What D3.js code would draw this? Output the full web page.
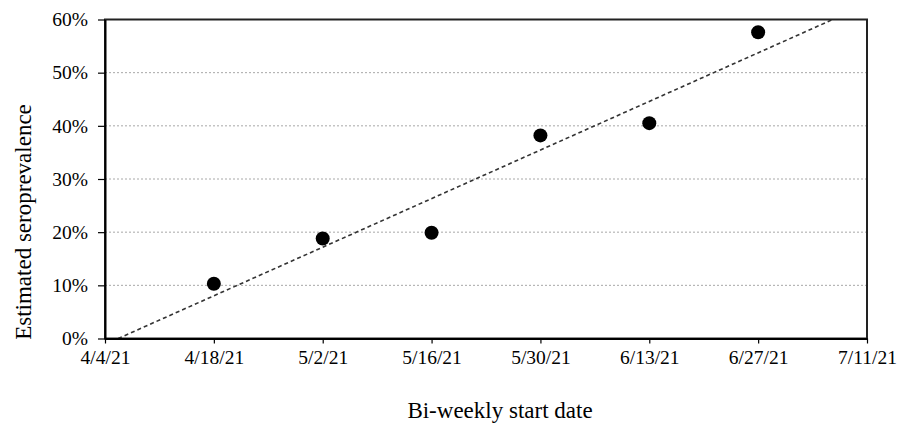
<!DOCTYPE html>
<html>
<head>
<meta charset="utf-8">
<script src="https://cdn.jsdelivr.net/npm/d3@7"></script>
<style>
  html, body { margin: 0; padding: 0; background: #fff; }
  svg { display: block; }
  text { font-family: "Liberation Serif", "Times New Roman", serif; fill: #000; }
</style>
</head>
<body>
<svg id="chart" width="905" height="423"></svg>
<script>
// ---- data ----
const dates = ["2021-04-18", "2021-05-02", "2021-05-16", "2021-05-30", "2021-06-13", "2021-06-27"];
const seroprevalence = [10.3, 18.8, 19.9, 38.2, 40.5, 57.6];
const xTickDatesStr = ["2021-04-04", "2021-04-18", "2021-05-02", "2021-05-16", "2021-05-30", "2021-06-13", "2021-06-27", "2021-07-11"];
const xTickLabels = ["4/4/21", "4/18/21", "5/2/21", "5/16/21", "5/30/21", "6/13/21", "6/27/21", "7/11/21"];
const yTicks = [0, 10, 20, 30, 40, 50, 60];
const xTitle = "Bi-weekly start date";
const yTitle = "Estimated seroprevalence";

const parse = d3.utcParse("%Y-%m-%d");
const points = dates.map((d, i) => ({ date: parse(d), value: seroprevalence[i] }));
const xTickDates = xTickDatesStr.map(parse);

const svg = d3.select("#chart");
const margin = { left: 105, right: 38, top: 19.5, bottom: 84.5 };
const W = 905, H = 423;
const iw = W - margin.left - margin.right;
const ih = H - margin.top - margin.bottom;

const x = d3.scaleUtc()
  .domain([xTickDates[0], xTickDates[xTickDates.length - 1]])
  .range([margin.left, margin.left + iw]);
const y = d3.scaleLinear().domain([0, 60]).range([margin.top + ih, margin.top]);

// gridlines
svg.append("g")
  .selectAll("line")
  .data(yTicks.filter(t => t > 0 && t < 60))
  .join("line")
  .attr("x1", margin.left).attr("x2", margin.left + iw)
  .attr("y1", d => y(d)).attr("y2", d => y(d))
  .attr("stroke", "#a8a8a8").attr("stroke-width", 1)
  .attr("stroke-dasharray", "2,2");

// trendline (least squares on data)
const base = xTickDates[0];
const xs = points.map(p => d3.utcDay.count(base, p.date));
const mx = d3.mean(xs), my = d3.mean(seroprevalence);
const slope = d3.sum(xs, (v, i) => (v - mx) * (seroprevalence[i] - my)) / d3.sum(xs, v => (v - mx) ** 2);
const icpt = my - slope * mx;
const d0 = (0 - icpt) / slope, d1 = (60 - icpt) / slope;
svg.append("line")
  .attr("x1", x(new Date(base.getTime() + d0 * 864e5))).attr("y1", y(0))
  .attr("x2", x(new Date(base.getTime() + d1 * 864e5))).attr("y2", y(60))
  .attr("stroke", "#333").attr("stroke-width", 1.6)
  .attr("stroke-dasharray", "4,3");

// frame
svg.append("rect")
  .attr("x", margin.left).attr("y", margin.top)
  .attr("width", iw).attr("height", ih)
  .attr("fill", "none").attr("stroke", "#222").attr("stroke-width", 2);

// axes
const xAxis = d3.axisBottom(x)
  .tickValues(xTickDates)
  .tickFormat((d, i) => xTickLabels[i])
  .tickSize(5).tickSizeOuter(0).tickPadding(7);
const gx = svg.append("g").attr("transform", `translate(0,${margin.top + ih})`).call(xAxis);
gx.select(".domain").attr("stroke", "#000").attr("stroke-width", 2);
gx.selectAll(".tick line").attr("stroke", "#000").attr("stroke-width", 1.2);
gx.selectAll(".tick text").style("font-size", "19.5px").attr("fill", "#000")
  .attr("font-family", "Liberation Serif");

const yAxis = d3.axisLeft(y)
  .tickValues(yTicks)
  .tickFormat(d => d + "%")
  .tickSize(7).tickSizeOuter(0).tickPadding(10);
const gy = svg.append("g").attr("transform", `translate(${margin.left},0)`).call(yAxis);
gy.select(".domain").attr("stroke", "#000").attr("stroke-width", 2);
gy.selectAll(".tick line").attr("stroke", "#000").attr("stroke-width", 1.2);
gy.selectAll(".tick text").style("font-size", "19.5px").attr("fill", "#000")
  .attr("font-family", "Liberation Serif");

// points
svg.append("g")
  .selectAll("circle")
  .data(points)
  .join("circle")
  .attr("cx", d => x(d.date)).attr("cy", d => y(d.value))
  .attr("r", 7).attr("fill", "#000");

// titles
svg.append("text")
  .attr("x", 500).attr("y", 418)
  .attr("text-anchor", "middle")
  .style("font-size", "23px")
  .text(xTitle);

svg.append("text")
  .attr("transform", "translate(31,222) rotate(-90)")
  .attr("text-anchor", "middle")
  .style("font-size", "23px")
  .text(yTitle);
</script>
</body>
</html>
